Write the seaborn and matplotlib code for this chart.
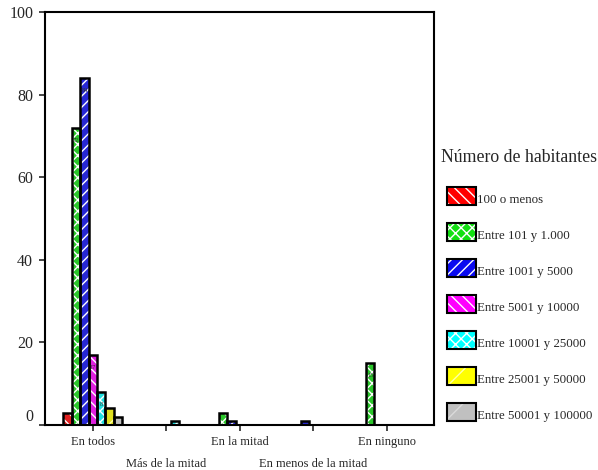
import pandas as pd
import matplotlib
matplotlib.use("Agg")
import matplotlib.pyplot as plt
from matplotlib.patches import Rectangle
import seaborn as sns

# Datos
categorias = ["En todos", "Más de la mitad", "En la mitad", "En menos de la mitad", "En ninguno"]
grupos = ["100 o menos", "Entre 101 y 1.000", "Entre 1001 y 5000", "Entre 5001 y 10000",
          "Entre 10001 y 25000", "Entre 25001 y 50000", "Entre 50001 y 100000"]
v_100 = [3, 0, 0, 0, 0]
v_1000 = [72, 0, 3, 0, 15]
v_5000 = [84, 0, 1, 1, 0]
v_10000 = [17, 0, 0, 0, 0]
v_25000 = [8, 1, 0, 0, 0]
v_50000 = [4, 0, 0, 0, 0]
v_100000 = [2, 0, 0, 0, 0]
valores = [v_100, v_1000, v_5000, v_10000, v_25000, v_50000, v_100000]

colores = ["#ff0000", "#11e011", "#0a0af0", "#ff00ff", "#00ffff", "#ffff00", "#c0c0c0"]
tramas = ["\\\\\\", "xxx", "///", "\\\\\\", "xxx", "/", "/"]
color_trama = ["white", "white", "white", "white", "white", "#ffffa8", "#dadada"]

filas = []
for g, vals in zip(grupos, valores):
    for c, v in zip(categorias, vals):
        filas.append({"ubicacion": c, "valor": v, "habitantes": g})
df = pd.DataFrame(filas)

sns.set_style("white")
plt.rcParams["font.family"] = ["Liberation Serif", "DejaVu Serif"]
plt.rcParams["hatch.linewidth"] = 1.0

fig = plt.figure(figsize=(5.98, 4.70), dpi=100)
ax = fig.add_axes([45 / 598, 45 / 470, 389 / 598, 413 / 470])

sns.barplot(data=df, x="ubicacion", y="valor", hue="habitantes", order=categorias,
            hue_order=grupos, palette=colores, width=0.8, edgecolor="white",
            linewidth=0, legend=False, ax=ax)

# tramas claras y contorno negro
n = len(categorias)
for i, p in enumerate(list(ax.patches)):
    g = i // n
    p.set_hatch(tramas[g])
    p.set_edgecolor(color_trama[g])
    p.set_linewidth(0)
    h = p.get_height()
    if h <= 0:
        p.set_visible(False)
        continue
    ax.add_patch(Rectangle((p.get_x(), 0), p.get_width(), h, fill=False,
                           edgecolor="black", linewidth=1.8, zorder=3))
    if h >= 5:
        ax.text(p.get_x() + p.get_width() / 2, h - 3.1, f"{h:g}", ha="center",
                va="center", fontsize=4.5, color="#333333", zorder=4)

ax.set_ylim(0, 100)
ax.set_xlim(-0.65, 4.64)
ax.set_yticks([0, 20, 40, 60, 80, 100])
# etiquetas alternadas en dos filas: pares como mayores, impares como menores
pares = list(range(0, n, 2))
impares = list(range(1, n, 2))
ax.set_xticks(pares, labels=[categorias[i] for i in pares])
ax.set_xticks(impares, labels=[categorias[i] for i in impares], minor=True)
ax.tick_params(axis="y", labelsize=11.5, direction="out", length=4.5, width=1.2, left=True, pad=4)
ax.tick_params(axis="x", which="both", labelsize=9, direction="out", length=4, width=1.2,
               bottom=True)
ax.tick_params(axis="x", which="major", pad=4)
ax.tick_params(axis="x", which="minor", pad=19.8)
# el "0" queda algo por encima de su marca
ax.yaxis.get_major_ticks()[0].label1.set_verticalalignment("bottom")
ax.set_xlabel("")
ax.set_ylabel("")
for s in ax.spines.values():
    s.set_color("black")
    s.set_linewidth(1.5)

# Leyenda
fig.text(441 / 598, 1 - 158 / 470, "Número de habitantes", fontsize=12.8, va="center", ha="left")
for k, (g, col, tr) in enumerate(zip(grupos, colores, tramas)):
    y_top = 187 + 36 * k
    x0, y0 = 447 / 598, 1 - (y_top + 18) / 470
    w, hh = 29 / 598, 18 / 470
    fig.add_artist(Rectangle((x0, y0), w, hh, transform=fig.transFigure, facecolor=col,
                             edgecolor=color_trama[k], linewidth=0, hatch=tr))
    fig.add_artist(Rectangle((x0, y0), w, hh, transform=fig.transFigure, fill=False,
                             edgecolor="black", linewidth=1.5))
    fig.text(477 / 598, 1 - (y_top + 16) / 470, g, fontsize=9.3, va="baseline", ha="left")

fig.savefig("out.png", dpi=100)
